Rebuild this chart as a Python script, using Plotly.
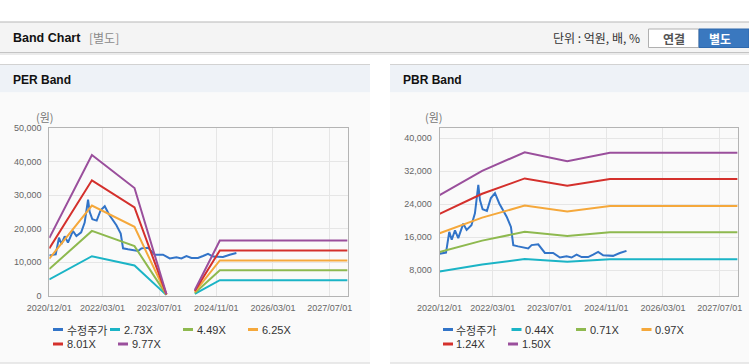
import plotly.graph_objects as go

W, H = 749, 364

# ---------------- data ----------------
tick_dates = ["2020-12-01", "2022-03-01", "2023-07-01", "2024-11-01", "2026-03-01", "2027-07-01"]
tick_labels = ["2020/12/01", "2022/03/01", "2023/07/01", "2024/11/01", "2026/03/01", "2027/07/01"]

price_dates = ["2020-12-01", "2021-01-25", "2021-02-22", "2021-03-15", "2021-04-12", "2021-05-10",
               "2021-06-22", "2021-07-21", "2021-08-31", "2021-09-30", "2021-10-29", "2021-11-12",
               "2021-12-05", "2022-01-11", "2022-02-14", "2022-03-21", "2022-04-27", "2022-06-29",
               "2022-08-05", "2022-08-25", "2022-10-06", "2022-12-31", "2023-01-29", "2023-03-27",
               "2023-05-23", "2023-08-02", "2023-09-29", "2023-11-25", "2024-01-07", "2024-02-19",
               "2024-04-02", "2024-05-28", "2024-07-10", "2024-08-22", "2024-10-04", "2024-12-28",
               "2025-02-24", "2025-04-22"]
price_values = [12000, 12300, 17300, 15400, 17700, 15800,
                19300, 17800, 18900, 21800, 28700, 25000,
                22800, 22400, 25500, 26700, 24200, 21000,
                18500, 14100, 13800, 13300, 14100, 14300,
                12200, 12200, 11100, 11400, 11100, 11800,
                11200, 11200, 11800, 12450, 11650, 11500,
                12200, 12700]

per_dates = ["2020-12-01", "2021-12-01", "2022-12-01", "2023-09-01", "2024-01-01",
             "2024-05-01", "2024-12-01", "2027-12-01"]
per_273 = [4800, 11740, 8980, 110, None, 460, 4590, 4590]
per_449 = [7900, 19310, 14770, 180, None, 760, 7540, 7540]
per_625 = [11000, 26880, 20560, 250, None, 1060, 10500, 10500]
per_801 = [14100, 34440, 26350, 320, None, 1360, 13460, 13460]
per_977 = [17200, 42010, 32140, 390, None, 1660, 16410, 16410]

pbr_dates = ["2020-12-01", "2021-12-01", "2022-12-01", "2023-12-01", "2024-12-01", "2027-12-01"]
pbr_044 = [7700, 9420, 10740, 10100, 10690, 10690]
pbr_071 = [12420, 15190, 17320, 16290, 17250, 17250]
pbr_097 = [16970, 20760, 23670, 22260, 23570, 23570]
pbr_124 = [21690, 26540, 30260, 28460, 30130, 30130]
pbr_150 = [26240, 32100, 36600, 34430, 36450, 36450]

per_names = ["수정주가", "2.73X", "4.49X", "6.25X", "8.01X", "9.77X"]
pbr_names = ["수정주가", "0.44X", "0.71X", "0.97X", "1.24X", "1.50X"]
colors = ["#3274c8", "#1bb4c6", "#8eb94f", "#f5a83b", "#d4302c", "#9a4f9c"]

# ---------------- figure ----------------
fig = go.Figure()

per_series = [per_273, per_449, per_625, per_801, per_977]
pbr_series = [pbr_044, pbr_071, pbr_097, pbr_124, pbr_150]

fig.add_trace(go.Scatter(x=price_dates, y=price_values, name=per_names[0], mode="lines",
                         line=dict(color=colors[0], width=2), xaxis="x", yaxis="y"))
for i, s in enumerate(per_series):
    fig.add_trace(go.Scatter(x=per_dates, y=s, name=per_names[i + 1], mode="lines",
                             line=dict(color=colors[i + 1], width=2), xaxis="x", yaxis="y",
                             connectgaps=False))

fig.add_trace(go.Scatter(x=price_dates, y=price_values, name=pbr_names[0], mode="lines",
                         line=dict(color=colors[0], width=2), xaxis="x2", yaxis="y2"))
for i, s in enumerate(pbr_series):
    fig.add_trace(go.Scatter(x=pbr_dates, y=s, name=pbr_names[i + 1], mode="lines",
                             line=dict(color=colors[i + 1], width=2), xaxis="x2", yaxis="y2"))


def px(x):
    return x / W


def py(y):
    return 1 - y / H


tickfont = dict(family="Liberation Sans, Arial, sans-serif", size=9, color="#666666")
xcommon = dict(type="date", range=["2020-12-01", "2027-12-01"], tickvals=tick_dates, ticktext=tick_labels,
               showgrid=True, gridcolor="#e6e6e6", gridwidth=1, showline=True, linecolor="#b4b4b4",
               linewidth=1, mirror=True, ticks="", tickfont=tickfont, zeroline=False,
               ticklabelstandoff=4, fixedrange=True, automargin=False)
ycommon = dict(showgrid=True, gridcolor="#e6e6e6", gridwidth=1, showline=True, linecolor="#b4b4b4",
               linewidth=1, mirror=True, ticks="", tickfont=tickfont, zeroline=False,
               tickformat=",d", ticklabelstandoff=5, fixedrange=True, automargin=False)

plot_top, plot_bot = 128.3, 295.5
fig.update_layout(
    width=W, height=H, margin=dict(l=0, r=0, t=0, b=0, pad=0, autoexpand=False),
    paper_bgcolor="#ffffff", plot_bgcolor="#ffffff",
    showlegend=False,
    xaxis=dict(domain=[px(49.3), px(347.6)], anchor="y", **xcommon),
    yaxis=dict(domain=[py(plot_bot), py(plot_top)], anchor="x", range=[0, 50000],
               tickvals=[0, 10000, 20000, 30000, 40000, 50000], **ycommon),
    xaxis2=dict(domain=[px(439.6), px(737.6)], anchor="y2", **xcommon),
    yaxis2=dict(domain=[py(plot_bot), py(plot_top)], anchor="x2", range=[1900, 42400],
                tickvals=[8000, 16000, 24000, 32000, 40000], **ycommon),
)

shapes = []
anns = []


def rect(x0, y0, x1, y1, fill, line=None, lw=0, layer="below"):
    shapes.append(dict(type="rect", xref="paper", yref="paper", x0=px(x0), x1=px(x1), y0=py(y1), y1=py(y0),
                       fillcolor=fill, line=dict(width=lw, color=line or fill), layer=layer))


def hline(x0, x1, y, color, w=1, layer="below"):
    shapes.append(dict(type="line", xref="paper", yref="paper", x0=px(x0), x1=px(x1), y0=py(y), y1=py(y),
                       line=dict(color=color, width=w), layer=layer))


def text(x, y, s, size=11, color="#333333", family="Liberation Sans, Arial, sans-serif", anchor="left",
         bold=False):
    if bold:
        s = "<b>" + s + "</b>"
    anns.append(dict(xref="paper", yref="paper", x=px(x), y=py(y), text=s, showarrow=False,
                     xanchor=anchor, yanchor="middle", font=dict(size=size, color=color, family=family)))


KR = "Noto Sans CJK KR, sans-serif"

# header bar
rect(0, 22, W, 52.5, "#f4f4f4")
hline(0, W, 22, "#b8b8b8", 1.2)
hline(0, W, 52.5, "#c4c4c4", 1.2)
hline(0, W, 54, "#e4e4e4", 1.5)
text(10.5, 38, "Band Chart", size=12.5, color="#111111", bold=True)
text(86.5, 38, "[별도]", size=12, color="#8a8a8a", family=KR)
text(642, 38, "단위 : 억원, 배, %", size=12, color="#333333", family=KR, anchor="right")
rect(648.5, 29, 699, 47.5, "#ffffff", "#b0b0b0", 1)
text(674, 38.2, "연결", size=12, color="#555555", family=KR, anchor="center", bold=True)
rect(699, 29, 749, 47.5, "#3a78bf", "#2f69ad", 1)
text(720, 38.2, "별도", size=12, color="#ffffff", family=KR, anchor="center", bold=True)

# panels
for (x0, x1, title, tx) in [(0, 370, "PER Band", 10.5), (390, 749, "PBR Band", 400.5)]:
    rect(x0, 64.5, x1, 92.5, "#eef2f7")
    rect(x0, 92.5, x1, 362.5, "#fafafa")
    hline(x0, x1, 64.5, "#d2d2d2", 1)
    hline(x0, x1, 363, "#d4d4d4", 1.2)
    text(tx, 80, title, size=12, color="#111111", bold=True)

text(45, 117.5, "(원)", size=11, color="#777777", family=KR, anchor="center")
text(434, 117.5, "(원)", size=11, color="#777777", family=KR, anchor="center")

# custom legends
per_leg = [(53, 329.5, 0), (110, 329.5, 1), (183, 329.5, 2), (248, 329.5, 3), (53, 344, 4), (118, 344, 5)]
pbr_leg = [(443, 329.5, 0), (511.5, 329.5, 1), (576, 329.5, 2), (641.5, 329.5, 3), (443, 344, 4), (508, 344, 5)]
for legs, names in [(per_leg, per_names), (pbr_leg, pbr_names)]:
    for (lx, ly, k) in legs:
        shapes.append(dict(type="line", xref="paper", yref="paper", x0=px(lx), x1=px(lx + 10), y0=py(ly),
                           y1=py(ly), line=dict(color=colors[k], width=3), layer="above"))
        text(lx + 11.5, ly, names[k], size=11, color="#333333",
             family=(KR if k == 0 else "Liberation Sans, Arial, sans-serif"))

fig.update_layout(shapes=shapes, annotations=anns)

fig.write_html("out.html", config={"displayModeBar": False},
               post_script="document.body.style.margin='0px';document.body.style.overflow='hidden';")
